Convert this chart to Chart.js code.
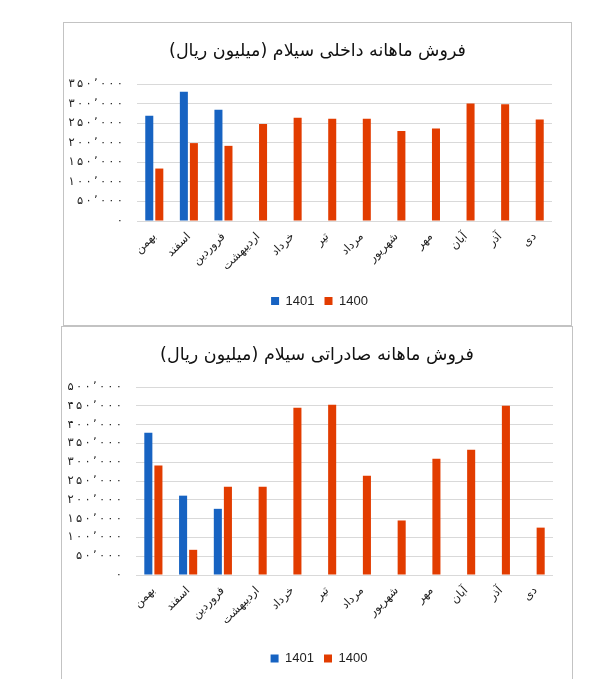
<!DOCTYPE html>
<html>
<head>
<meta charset="utf-8">
<script src="https://cdn.jsdelivr.net/npm/chart.js@4"></script>
<style>
  body { margin: 0; background: #fff; width: 613px; height: 679px; overflow: hidden; position: relative; }
  .panel { position: absolute; border: 1px solid #c3c3c3; background: #fff; }
  #p1 { left: 63px; top: 22px; width: 507px; height: 302px; }
  #p2 { left: 61px; top: 326px; width: 510px; height: 360px; }
  canvas { display: block; }
</style>
</head>
<body>
<div class="panel" id="p1"><canvas id="c1" width="507" height="302"></canvas></div>
<div class="panel" id="p2"><canvas id="c2" width="510" height="352"></canvas></div>
<script>
// months, oldest first (as on the sheet)
const months = ['بهمن', 'اسفند', 'فروردین', 'اردیبهشت', 'خرداد', 'تیر', 'مرداد', 'شهریور', 'مهر', 'آبان', 'آذر', 'دی'];
const seriesNames = ['1401', '1400'];

// domestic sales (million rial)
const domestic1401 = [269000, 330000, 284000, null, null, null, null, null, null, null, null, null];
const domestic1400 = [134000, 199000, 192000, 248000, 264000, 261000, 261000, 230000, 236000, 300000, 298000, 259000];

// export sales (million rial)
const export1401 = [378000, 211000, 176000, null, null, null, null, null, null, null, null, null];
const export1400 = [291000, 67000, 235000, 235000, 445000, 453000, 264000, 145000, 309000, 333000, 450000, 126000];

const domesticTicks = ['۰', '۵۰٬۰۰۰', '۱۰۰٬۰۰۰', '۱۵۰٬۰۰۰', '۲۰۰٬۰۰۰', '۲۵۰٬۰۰۰', '۳۰۰٬۰۰۰', '۳۵۰٬۰۰۰'];
const exportTicks = ['۰', '۵۰٬۰۰۰', '۱۰۰٬۰۰۰', '۱۵۰٬۰۰۰', '۲۰۰٬۰۰۰', '۲۵۰٬۰۰۰', '۳۰۰٬۰۰۰', '۳۵۰٬۰۰۰', '۴۰۰٬۰۰۰', '۴۵۰٬۰۰۰', '۵۰۰٬۰۰۰'];

const BLUE = '#1763c2';
const RED = '#e23c00';
const FA_FONT = "'DejaVu Sans', sans-serif";
const RLM = '\u200F'; // keeps the closing bracket inside the right-to-left run

// nudges the legend sideways (Excel did not centre it exactly)
const legendShift = {
    id: 'legendShift',
    afterLayout(chart, args, opts) {
        chart.legend.left += opts.dx;
        chart.legend.right += opts.dx;
    }
};

function barChart(canvasEl, title, a1401, a1400, tickLabels, yMax, lay) {
    return new Chart(canvasEl, {
        type: 'bar',
        data: {
            labels: months,
            datasets: [
                { label: seriesNames[0], data: a1401, backgroundColor: BLUE },
                { label: seriesNames[1], data: a1400, backgroundColor: RED }
            ]
        },
        options: {
            responsive: false,
            animation: false,
            events: [],
            layout: { padding: { left: 0, right: 0, top: 0, bottom: lay.bottom } },
            datasets: { bar: { categoryPercentage: 0.58, barPercentage: 0.8 } },
            scales: {
                x: {
                    grid: { display: false, drawTicks: false },
                    border: { display: false },
                    ticks: {
                        autoSkip: false,
                        minRotation: 45,
                        maxRotation: 45,
                        padding: 9,
                        color: '#222',
                        font: { family: FA_FONT, size: 11.5 }
                    },
                    afterFit(scale) { scale.height = lay.xHeight; }
                },
                y: {
                    min: 0,
                    max: yMax,
                    grid: { color: '#d9d9d9', drawTicks: false },
                    border: { display: false },
                    ticks: {
                        stepSize: 50000,
                        padding: 14,
                        color: '#222',
                        font: { family: FA_FONT, size: 11.5 },
                        // the sheet spaces its digits wide
                        callback: (v, i) => tickLabels[i].split('').join('\u2009')
                    },
                    afterFit(scale) { scale.width = lay.yWidth; }
                },
                // empty right-hand axis, only to keep the plot off the border
                gap: {
                    type: 'linear',
                    position: 'right',
                    grid: { display: false, drawTicks: false },
                    border: { display: false },
                    ticks: { display: false },
                    afterFit(scale) { scale.width = lay.right; }
                }
            },
            plugins: {
                title: {
                    display: true,
                    text: title + RLM,
                    color: '#111',
                    font: { family: FA_FONT, size: 17.5, weight: 'normal' },
                    padding: lay.titlePad
                },
                legend: {
                    position: 'bottom',
                    labels: {
                        boxWidth: 8,
                        boxHeight: 8,
                        padding: 10,
                        color: '#222',
                        font: { family: "'Liberation Sans', sans-serif", size: 13 }
                    }
                },
                legendShift: { dx: 2 },
                tooltip: { enabled: false }
            }
        },
        plugins: [legendShift]
    });
}

barChart(document.getElementById('c1'), 'فروش ماهانه داخلی سیلام (میلیون ریال)',
    domestic1401, domestic1400, domesticTicks, 350000,
    { right: 19, bottom: 7.5, xHeight: 63.5, yWidth: 73, titlePad: { top: 18, bottom: 22 } });

barChart(document.getElementById('c2'), 'فروش ماهانه صادراتی سیلام (میلیون ریال)',
    export1401, export1400, exportTicks, 500000,
    { right: 19, bottom: 4, xHeight: 67, yWidth: 74, titlePad: { top: 18, bottom: 21 } });
</script>
</body>
</html>
